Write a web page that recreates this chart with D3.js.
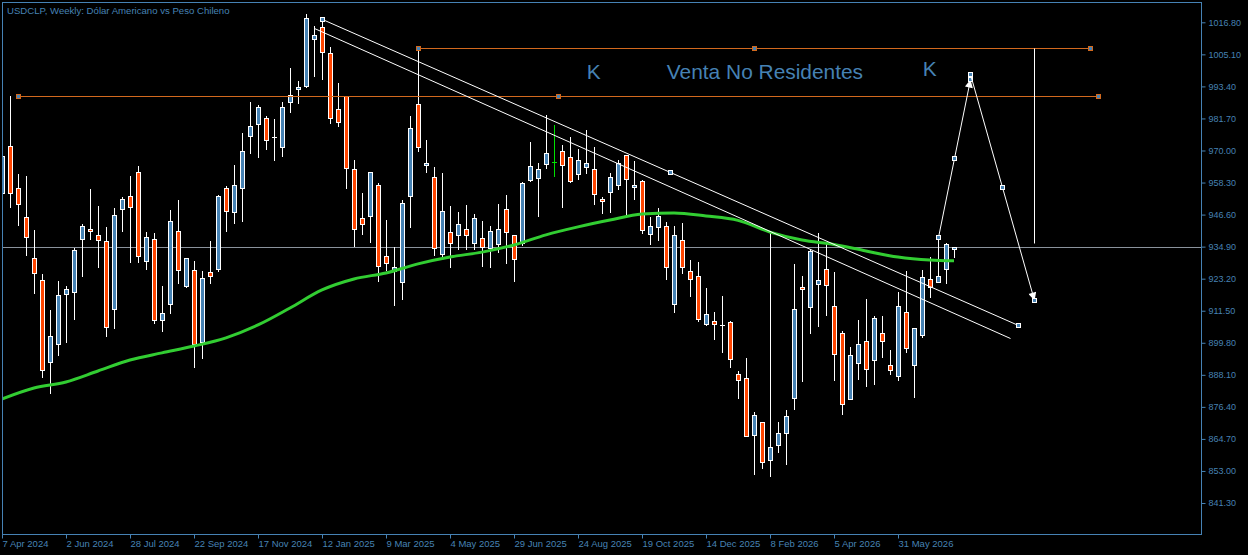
<!DOCTYPE html>
<html>
<head>
<meta charset="utf-8">
<script src="https://cdn.jsdelivr.net/npm/d3@7"></script>
<style>
  html, body { margin: 0; padding: 0; background: #000; }
  svg { display: block; }
</style>
</head>
<body>
<div id="chart"></div>
<script>
// weekly USDCLP candles, index 0 = week of 7 Apr 2024
const opens = [954.5, 971.6, 956.3, 945.7, 930.8, 922.7, 892.8, 899.4, 917.6, 918.3,
  937.7, 941.3, 939.2, 937.0, 912.1, 948.6, 953.4, 962.2, 929.7, 937.7,
  908.1, 914.0, 940.6, 920.5, 926.4, 900.1, 925.6, 926.7, 956.3, 947.6,
  956.3, 975.3, 979.7, 981.9, 974.9, 971.3, 987.7, 992.5, 993.5, 1010.7,
  1015.1, 1005.6, 985.1, 989.9, 963.2, 945.4, 946.1, 957.4, 931.5, 926.0,
  922.0, 953.4, 987.0, 964.7, 960.3, 932.2, 940.3, 939.2, 941.3, 936.2,
  938.1, 934.4, 935.9, 948.6, 939.2, 936.2, 959.2, 960.0, 965.1, 965.8,
  969.8, 967.6, 961.4, 964.0, 963.2, 952.3, 954.9, 957.4, 968.4, 956.7,
  958.9, 939.5, 942.1, 942.4, 914.0, 937.3, 926.0, 924.2, 906.7, 907.8,
  906.3, 907.4, 888.4, 887.0, 866.1, 870.9, 857.0, 862.5, 866.9, 879.6,
  920.2, 912.9, 921.3, 926.7, 913.2, 903.4, 879.3, 892.4, 900.5, 893.5,
  903.4, 891.7, 887.7, 911.0, 891.7, 902.7, 923.1, 922.0, 926.7, 934.2];
const highs = [970.2, 989.9, 961.4, 960.7, 941.0, 924.9, 911.8, 922.4, 920.5, 934.4,
  943.2, 955.9, 949.7, 942.1, 949.0, 953.0, 960.7, 964.3, 940.3, 939.9,
  920.5, 948.3, 951.9, 930.8, 929.7, 926.0, 937.0, 953.8, 957.0, 964.7,
  976.4, 987.7, 986.6, 982.6, 981.5, 987.7, 1000.1, 995.4, 1019.8, 1015.4,
  1018.0, 1007.8, 994.6, 989.9, 966.5, 954.5, 962.2, 958.1, 944.6, 934.8,
  951.9, 982.6, 1007.4, 973.8, 964.0, 961.8, 949.7, 947.6, 950.1, 946.8,
  944.3, 942.4, 950.5, 953.8, 939.2, 958.5, 973.1, 965.4, 983.0, 979.3,
  972.0, 974.9, 970.6, 977.5, 971.3, 953.0, 961.8, 966.5, 968.4, 966.2,
  959.2, 945.7, 949.0, 943.9, 942.4, 943.5, 930.0, 929.3, 919.8, 911.0,
  916.9, 907.8, 889.5, 894.3, 874.5, 870.9, 940.2, 870.9, 875.3, 928.6,
  924.2, 934.0, 939.9, 936.2, 925.6, 904.1, 898.3, 908.1, 915.8, 909.6,
  909.6, 897.2, 918.3, 926.0, 905.2, 926.4, 931.1, 938.4, 936.2, 934.9];
const lows = [952.7, 949.4, 942.8, 931.9, 918.0, 887.3, 881.5, 895.3, 900.1, 908.5,
  924.2, 937.7, 927.5, 902.3, 905.2, 940.6, 929.3, 929.3, 926.7, 907.0,
  904.1, 910.7, 921.6, 920.2, 891.0, 894.3, 921.6, 926.0, 940.6, 943.5,
  944.3, 969.1, 967.6, 970.6, 966.5, 968.0, 984.1, 987.3, 993.2, 997.2,
  996.1, 980.0, 978.9, 956.3, 935.1, 939.5, 936.6, 922.4, 926.4, 913.6,
  915.8, 942.1, 969.8, 962.2, 931.9, 931.1, 927.5, 934.0, 934.0, 934.0,
  927.8, 927.5, 932.9, 928.9, 922.4, 935.5, 958.9, 946.1, 963.6, 960.7,
  949.4, 958.5, 959.6, 961.8, 950.5, 947.2, 947.6, 955.9, 946.5, 952.3,
  939.9, 935.9, 937.3, 923.1, 911.0, 925.3, 916.9, 907.8, 906.3, 901.2,
  896.4, 891.0, 879.7, 865.8, 851.9, 854.1, 851.2, 859.9, 855.6, 875.6,
  885.9, 903.4, 905.9, 909.9, 886.2, 873.8, 879.3, 886.6, 884.0, 884.8,
  894.6, 888.4, 886.2, 896.4, 880.0, 901.9, 916.5, 922.0, 921.6, 931.1];
const closes = [968.0, 954.5, 950.5, 938.4, 925.3, 889.9, 902.3, 917.3, 919.4, 933.7,
  942.4, 940.6, 937.3, 905.6, 946.5, 952.3, 949.4, 931.5, 938.4, 908.1,
  910.7, 944.3, 926.4, 930.8, 899.4, 923.5, 924.2, 953.4, 947.9, 957.4,
  969.8, 978.9, 985.9, 973.8, 974.9, 985.9, 990.3, 993.2, 1018.4, 1012.2,
  1006.0, 981.9, 980.4, 963.6, 941.3, 943.2, 962.2, 927.8, 928.9, 927.5,
  950.8, 978.2, 971.3, 965.4, 934.4, 947.9, 936.2, 943.2, 939.2, 945.4,
  934.8, 940.6, 941.3, 940.3, 930.4, 958.1, 964.3, 963.2, 969.1, 965.8,
  964.7, 958.9, 966.5, 965.4, 954.1, 951.6, 960.3, 965.4, 959.6, 957.4,
  941.0, 942.4, 946.1, 927.5, 939.2, 927.5, 923.1, 908.5, 910.3, 906.7,
  906.3, 893.9, 886.2, 865.8, 873.4, 856.3, 861.8, 866.9, 873.1, 912.1,
  919.4, 933.3, 922.7, 920.9, 895.7, 877.5, 895.3, 899.4, 890.2, 908.9,
  900.5, 889.9, 913.2, 897.9, 905.2, 923.8, 920.2, 924.2, 935.9, 934.9];
const highlightWeek = 69; // bar drawn in green on the terminal

// moving average, read every 4 weeks
const maIdx = [0, 4, 8, 12, 16, 20, 24, 28, 32, 36, 40, 44, 48, 52, 56, 60,
  64, 68, 72, 76, 80, 84, 88, 92, 96, 100, 104, 108, 112, 116, 119];
const maValues = [879.3, 883.3, 885.5, 889.5, 893.5, 896.1, 898.6, 901.6, 906.3, 912.5,
  919.1, 923.1, 925.3, 928.6, 931.1, 932.9, 935.5, 939.2, 942.1, 944.6, 946.8,
  947.2, 946.1, 944.5, 940.2, 937.3, 935.7, 933.3, 931.1, 930.0, 929.7];

const priceTicks = [841.30, 853.00, 864.70, 876.40, 888.10, 899.80, 911.50, 923.20,
  934.90, 946.60, 958.30, 970.00, 981.70, 993.40, 1005.10, 1016.80];
const dateIdx = [0, 8, 16, 24, 32, 40, 48, 56, 64, 72, 80, 88, 96, 104, 112];
const dateLabels = ['7 Apr 2024', '2 Jun 2024', '28 Jul 2024', '22 Sep 2024', '17 Nov 2024',
  '12 Jan 2025', '9 Mar 2025', '4 May 2025', '29 Jun 2025', '24 Aug 2025', '19 Oct 2025',
  '14 Dec 2025', '8 Feb 2026', '5 Apr 2026', '31 May 2026'];
const lastPrice = 934.90;

// drawn objects: [week, price] pairs
const orangeLines = [[[2, 989.8], [137, 989.8]], [[52, 1007.3], [136, 1007.3]]];
const trendLines = [[[40, 1017.9], [127, 906.2]]];
const channelLines = [[[39, 1014.6], [126, 901.4]]];
const arrowLines = [[[117, 938.4], [121, 996.0]], [[121, 997.8], [129, 915.3]]];
const vLines = [[[129, 1007.3], [129, 936.1]]];
const labelText = ['K', 'Venta No Residentes', 'K'];
const labelWeek = [73.1, 83.1, 115.1];
const labelPrice = [996.0, 996.0, 997.2];

const title = 'USDCLP, Weekly:  Dólar Americano vs Peso Chileno';

const width = 1248, height = 555;
const plot = { left: 2, top: 2, right: 1201, bottom: 534 };
const axisColor = '#4682b4';
const upColor = '#4682b4', downColor = '#ff4500';
const orange = '#d2691e';

const svg = d3.select('#chart').append('svg')
  .attr('width', width).attr('height', height)
  .style('background', '#000');

svg.append('defs').append('clipPath').attr('id', 'clip')
  .append('rect')
  .attr('x', plot.left + 1).attr('y', plot.top + 1)
  .attr('width', plot.right - plot.left - 1).attr('height', plot.bottom - plot.top - 1);

const marker = svg.select('defs').append('marker')
  .attr('id', 'arrow')
  .attr('viewBox', '0 0 10 10')
  .attr('refX', 10).attr('refY', 5)
  .attr('markerWidth', 9).attr('markerHeight', 8)
  .attr('markerUnits', 'userSpaceOnUse')
  .attr('orient', 'auto');
marker.append('path').attr('d', 'M0,0L10,5L0,10z').attr('fill', '#fff');

const x = d3.scaleLinear().domain([0, 149.875]).range([plot.left, plot.right]);
const y = d3.scaleLinear().domain([841.3, 1016.8]).range([503, 22.3]);
const px = v => Math.round(x(v));
const py = v => Math.round(y(v));

const candles = opens.map((o, i) => ({ i, o, h: highs[i], l: lows[i], c: closes[i] }));

const g = svg.append('g').attr('clip-path', 'url(#clip)');

// last price line
g.append('line')
  .attr('x1', plot.left).attr('x2', plot.right)
  .attr('y1', py(lastPrice) + 0.5).attr('y2', py(lastPrice) + 0.5)
  .attr('stroke', '#8a929c').attr('stroke-width', 1);

// wicks
g.selectAll('.wick').data(candles).enter().append('line')
  .attr('class', 'wick')
  .attr('x1', d => px(d.i) + 0.5).attr('x2', d => px(d.i) + 0.5)
  .attr('y1', d => py(d.h)).attr('y2', d => py(d.l) + 1)
  .attr('stroke', d => d.i === highlightWeek ? '#00e000' : '#fff')
  .attr('shape-rendering', 'crispEdges');

// bodies
const bodyH = d => py(Math.min(d.o, d.c)) - py(Math.max(d.o, d.c));
const bodies = candles.filter(d => d.i !== highlightWeek && bodyH(d) >= 1);
g.selectAll('.body').data(bodies).enter().append('rect')
  .attr('class', 'body')
  .attr('x', d => px(d.i) - 1.5)
  .attr('y', d => py(Math.max(d.o, d.c)) + 0.5)
  .attr('width', 4)
  .attr('height', d => bodyH(d))
  .attr('fill', d => d.c >= d.o ? upColor : downColor)
  .attr('stroke', '#fff').attr('stroke-width', 1)
  .attr('shape-rendering', 'crispEdges');

// dojis
const dojis = candles.filter(d => d.i === highlightWeek || bodyH(d) < 1);
g.selectAll('.doji').data(dojis).enter().append('line')
  .attr('class', 'doji')
  .attr('x1', d => px(d.i) - 2).attr('x2', d => px(d.i) + 3)
  .attr('y1', d => py(d.c) + 0.5).attr('y2', d => py(d.c) + 0.5)
  .attr('stroke', d => d.i === highlightWeek ? '#00e000' : '#fff')
  .attr('shape-rendering', 'crispEdges');

// moving average
const maLine = d3.line()
  .x(d => x(d[0]))
  .y(d => y(d[1]))
  .curve(d3.curveMonotoneX);
g.append('path')
  .datum(maIdx.map((k, i) => [k, maValues[i]]))
  .attr('fill', 'none')
  .attr('stroke', '#32cd32')
  .attr('stroke-width', 3)
  .attr('d', maLine);

const segLine = d3.line().x(d => px(d[0]) + 0.5).y(d => py(d[1]) + 0.5);

function anchors(seg, stroke) {
  const a = seg[0], b = seg[1];
  const pts = [a, [(a[0] + b[0]) / 2, (a[1] + b[1]) / 2], b];
  g.selectAll(null).data(pts).enter().append('rect')
    .attr('x', d => Math.round(x(d[0])) - 1.5)
    .attr('y', d => Math.round(y(d[1])) - 1.5)
    .attr('width', 4).attr('height', 4)
    .attr('fill', upColor)
    .attr('stroke', stroke).attr('stroke-width', 1)
    .attr('shape-rendering', 'crispEdges');
}

orangeLines.forEach(seg => {
  g.append('path').attr('d', segLine(seg))
    .attr('stroke', orange).attr('stroke-width', 1).attr('fill', 'none');
  anchors(seg, orange);
});

channelLines.forEach(seg => {
  g.append('path').attr('d', segLine(seg))
    .attr('stroke', '#fff').attr('stroke-width', 1).attr('fill', 'none');
});

trendLines.forEach(seg => {
  g.append('path').attr('d', segLine(seg))
    .attr('stroke', '#fff').attr('stroke-width', 1).attr('fill', 'none');
  anchors(seg, '#fff');
});

vLines.forEach(seg => {
  g.append('path').attr('d', segLine(seg))
    .attr('stroke', '#fff').attr('stroke-width', 1).attr('fill', 'none');
});

arrowLines.forEach(seg => {
  g.append('path').attr('d', segLine(seg))
    .attr('stroke', '#fff').attr('stroke-width', 1).attr('fill', 'none')
    .attr('marker-end', 'url(#arrow)');
  anchors(seg, '#fff');
});

// text objects
g.selectAll('.lbl').data(labelText).enter().append('text')
  .attr('class', 'lbl')
  .attr('x', (d, i) => x(labelWeek[i]))
  .attr('y', (d, i) => y(labelPrice[i]))
  .attr('fill', '#4682b4')
  .style('font-family', '"Liberation Sans", Arial, sans-serif')
  .style('font-size', '20.9px')
  .text(d => d);

// frame
svg.append('rect')
  .attr('x', plot.left + 0.5).attr('y', plot.top + 0.5)
  .attr('width', plot.right - plot.left).attr('height', plot.bottom - plot.top)
  .attr('fill', 'none').attr('stroke', axisColor).attr('stroke-width', 1);

// price axis
const yAxis = svg.append('g')
  .attr('transform', `translate(${plot.right + 0.5},0)`)
  .call(d3.axisRight(y).tickValues(priceTicks).tickSize(4).tickFormat(d3.format('.2f')));
yAxis.select('.domain').remove();
yAxis.selectAll('line').attr('stroke', axisColor);
yAxis.selectAll('text')
  .attr('fill', axisColor)
  .attr('x', 7)
  .style('font-family', '"Liberation Sans", Arial, sans-serif')
  .style('font-size', '9px');

// date axis
const xAxis = svg.append('g')
  .attr('transform', `translate(0,${plot.bottom + 0.5})`)
  .call(d3.axisBottom(x).tickValues(dateIdx).tickSize(4)
    .tickFormat((d, i) => dateLabels[i]));
xAxis.select('.domain').remove();
xAxis.selectAll('line').attr('stroke', axisColor);
xAxis.selectAll('text')
  .attr('fill', axisColor)
  .attr('text-anchor', 'start')
  .attr('x', 0)
  .attr('y', 6)
  .style('font-family', '"Liberation Sans", Arial, sans-serif')
  .style('font-size', '9.5px');

svg.append('text')
  .attr('x', 7).attr('y', 13.5)
  .attr('fill', axisColor)
  .style('font-family', '"Liberation Sans", Arial, sans-serif')
  .style('font-size', '9.6px')
  .text(title);
</script>
</body>
</html>
